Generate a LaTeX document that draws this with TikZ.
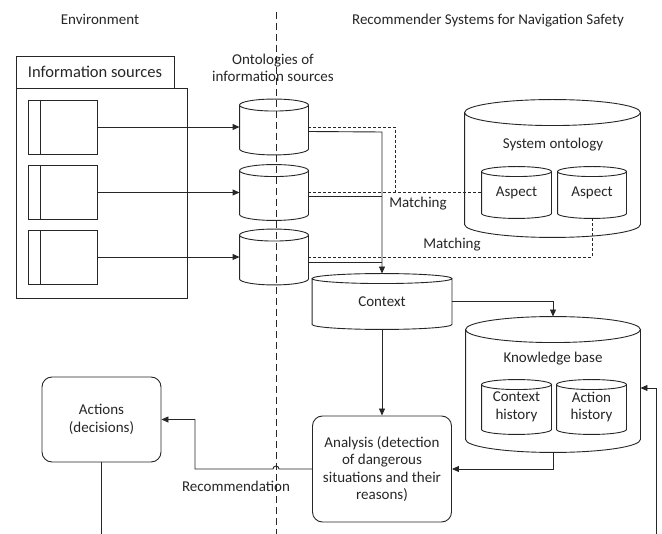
\documentclass[tikz,border=0pt]{standalone}
\usepackage{fontspec}
\setmainfont{Carlito}
\usetikzlibrary{arrows.meta,calc}

% cylinder outline drawn round an (invisible) node: #1 name, #2 ellipse half height
\newcommand{\drawdb}[2]{%
  \draw let \p1=(#1.west), \p2=(#1.east), \n1={(\x2-\x1)/2} in
    ([yshift=-#2pt]#1.north west) -- ([yshift=#2pt]#1.south west)
    arc[start angle=180, end angle=360, x radius=\n1, y radius=#2pt]
    -- ([yshift=-#2pt]#1.north east)
    ([yshift=-#2pt]#1.north) ellipse[x radius=\n1, y radius=#2pt];}

\tikzset{
  txt/.style={font=\fontsize{15}{17.5}\selectfont, align=center},
  box/.style={txt, draw, rectangle, inner sep=0pt},
  rbox/.style={box, rounded corners=10pt},
  db/.style={txt, inner sep=0pt, draw=none},
  arr/.style={-{Triangle[length=7pt,width=6pt]}},
  match/.style={dash pattern=on 3pt off 2pt},
}

\begin{document}
\begin{tikzpicture}[x=1pt, y=-1pt, line width=0.9pt, black!85]
  \useasboundingbox (0,0) rectangle (662,534);

  % the two sides
  \draw[dash pattern=on 7pt off 4pt] (276,12) -- (276,534);
  \node[txt] (env) at (100,19) {Environment};
  \node[txt] (rss) at (488,21) {Recommender Systems for Navigation Safety};

  % information sources
  \node[box, minimum width=158pt, minimum height=32pt, font=\fontsize{16.5}{19}\selectfont] (tab) at (95,72) {Information sources};
  \node[box, minimum width=171pt, minimum height=210pt] (srcbox) at (101.5,193) {};
  \foreach \i/\y in {1/127, 2/192.5, 3/257} {
    \node[box, minimum width=69pt, minimum height=54pt] (src\i) at (62.5,\y) {};
    \draw ([xshift=13pt]src\i.north west) -- ([xshift=13pt]src\i.south west);
    \node[db, minimum width=68pt, minimum height=55pt] (ont\i) at (274,\y) {};
    \drawdb{ont\i}{6}
    \draw[arr] (src\i) -- (ont\i);
  }
  \node[txt] (ontlabel) at (273,68) {Ontologies of\\information sources};

  % system ontology
  \node[db, minimum width=175pt, minimum height=137pt] (sysont) at (552.5,168.5) {};
  \drawdb{sysont}{13}
  \node[txt] (sysname) at (553,145) {System ontology};
  \node[db, minimum width=69pt, minimum height=51pt] (asp1) at (516.5,192.5) {Aspect};
  \drawdb{asp1}{5}
  \node[db, minimum width=68pt, minimum height=51pt] (asp2) at (592,192.5) {Aspect};
  \drawdb{asp2}{5}

  % context
  \node[db, minimum width=139pt, minimum height=55pt] (context) at (382,301.5) {Context};
  \drawdb{context}{5}

  % knowledge base
  \node[db, minimum width=174pt, minimum height=135pt] (kb) at (553,384.5) {};
  \drawdb{kb}{13}
  \node[txt] (kbname) at (553,359) {Knowledge base};
  \node[db, minimum width=69pt, minimum height=54pt] (ctxhist) at (516.5,407) {Context\\history};
  \drawdb{ctxhist}{5}
  \node[db, minimum width=69pt, minimum height=54pt] (acthist) at (591.5,407) {Action\\history};
  \drawdb{acthist}{5}

  % analysis and actions
  \node[rbox, minimum width=139pt, minimum height=106pt] (analysis) at (382,469) {Analysis (detection\\of dangerous\\situations and their\\reasons)};
  \node[rbox, minimum width=119pt, minimum height=85pt] (actions) at (101.5,419.5) {Actions\\(decisions)};

  % ontologies to context
  \coordinate (jn) at (382,132);
  \draw[arr] ([yshift=-4.5pt]ont1.east) -- (jn) -- (context.north);
  \draw ([yshift=-4pt]ont2.east) -- ([yshift=-4pt]ont2.east -| jn);
  \draw ([yshift=-5pt]ont3.east) -- ([yshift=-5pt]ont3.east -| jn);

  % matching with the aspects
  \draw[match] (ont1.east) -- (395,127) -- (395,192.5);
  \draw[match] (ont2.east) -- (asp1.west);
  \draw[match] (ont3.east) -| (asp2.south);
  \node[txt] (match1) at (418,204) {Matching};
  \node[txt] (match2) at (452,245) {Matching};

  % context, knowledge base, analysis
  \draw[arr] (context.east) -| (kb.north);
  \draw[arr] (context.south) -- (analysis.north);
  \draw[arr] (kb.south) |- (analysis.east);
  \coordinate (fb) at (656,534);
  \draw[arr] (fb) |- ([yshift=-3.5pt]kb.east);

  % recommendation
  \draw[arr] (analysis.west) -- (279,469) arc[start angle=0, end angle=180, radius=3pt]
    -- (195,469) |- (actions.east);
  \node[txt] (recom) at (236,486) {Recommendation};
  \coordinate (down) at (101.5,534);
  \draw (actions.south) -- (down);
\end{tikzpicture}
\end{document}
